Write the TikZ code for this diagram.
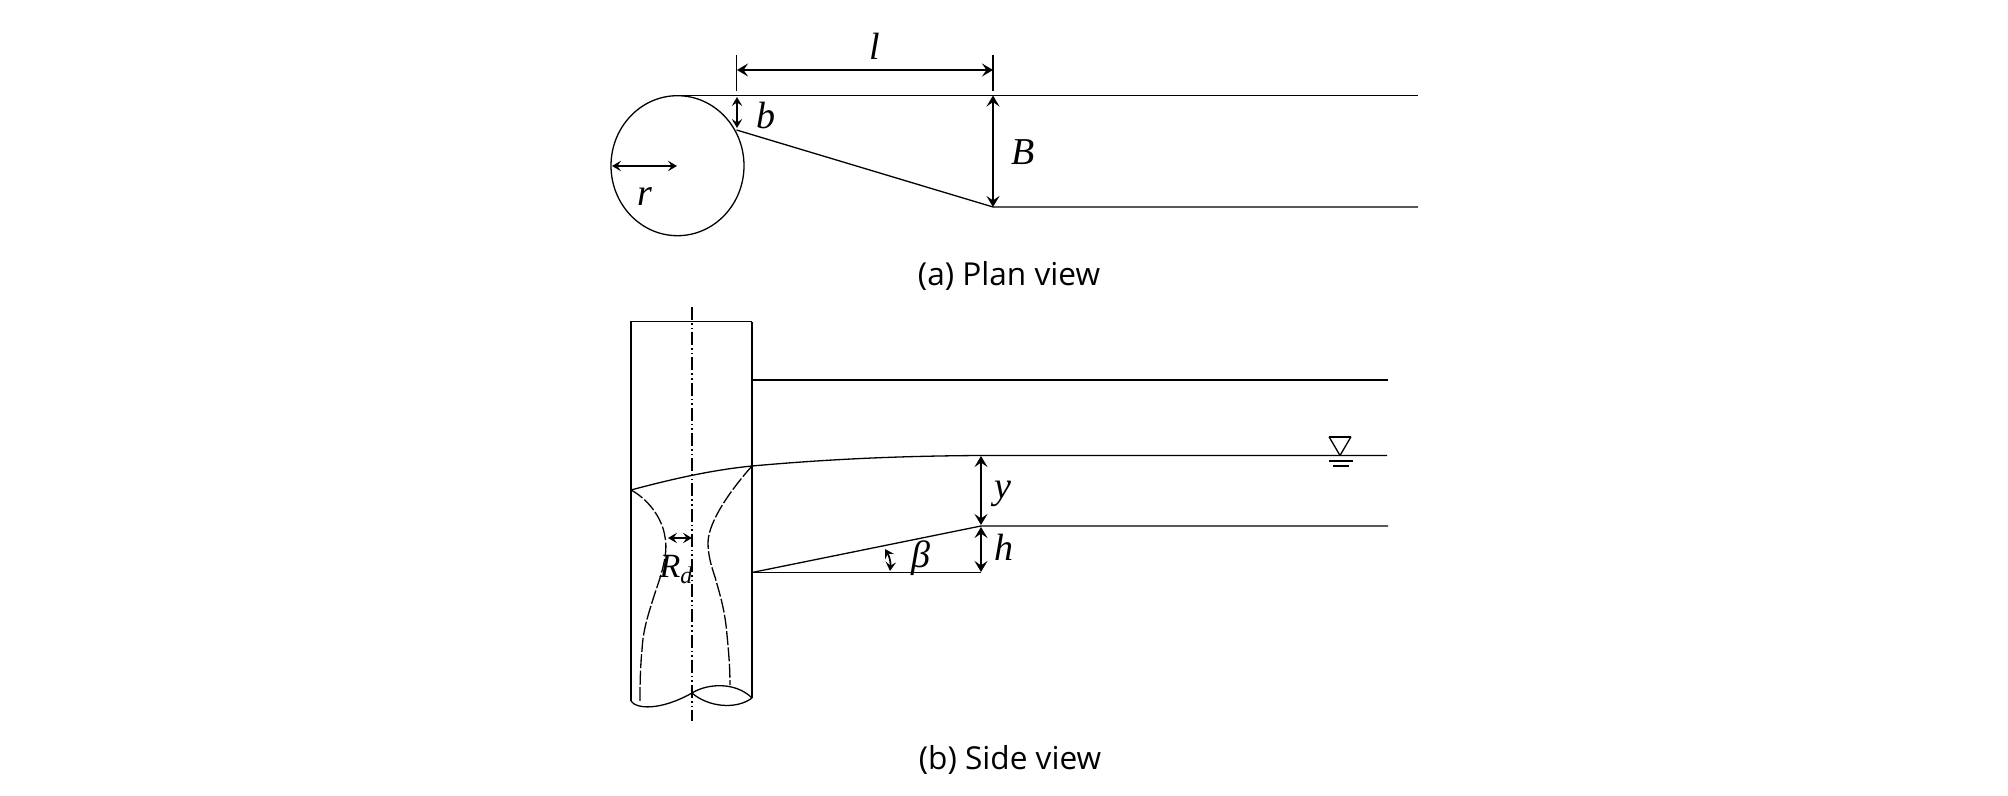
\documentclass[tikz,border=0pt]{standalone}
\usepackage{fontspec}
\setmainfont{Open Sans}
\newfontfamily\labfont{Liberation Serif}
\usetikzlibrary{arrows.meta}
\tikzset{
  thin line/.style={line width=0.65pt,black},
  hidden line/.style={line width=0.65pt,black,dash pattern=on 7pt off 1.2pt},
  axis line/.style={line width=0.85pt,black,dash pattern=on 6.5pt off 1.5pt on 0.8pt off 1.5pt on 0.8pt off 1.5pt},
  dimline/.style={line width=1.1pt,black,{Stealth[length=5.5pt,width=6.5pt,inset=2.2pt]}-{Stealth[length=5.5pt,width=6.5pt,inset=2.2pt]}},
  smalldim/.style={line width=0.85pt,black,{Stealth[length=4.5pt,width=5.2pt,inset=1.8pt]}-{Stealth[length=4.5pt,width=5.2pt,inset=1.8pt]}},
  lab/.style={inner sep=0pt,font=\labfont\itshape\fontsize{19}{19}\selectfont},
  captext/.style={inner sep=0pt,font=\fontsize{15.8}{18}\selectfont}
}
\begin{document}
\begin{tikzpicture}[x=0.5pt,y=-0.5pt]
\useasboundingbox (0,0) rectangle (2008,796);
% plan view coordinates
\coordinate (ptop) at (677,95.5);
\coordinate (ptopend) at (1418,95.5);
\coordinate (pneck) at (736.5,130);
\coordinate (pwide) at (993,207);
\coordinate (pwideend) at (1418,207);
\coordinate (pwidetop) at (993,95.5);
\coordinate (ltl) at (736.5,55);
\coordinate (lbl) at (736.5,91);
\coordinate (ltr) at (993,55);
\coordinate (lbr) at (993,91);
\coordinate (la) at (737,70);
\coordinate (lb) at (993,70);
\coordinate (ba) at (737,97);
\coordinate (bb) at (737,128);
\coordinate (ra) at (612,166);
\coordinate (rb) at (677,166);
\draw[thin line] (677.5,165.7) ellipse [x radius=66.5,y radius=70];
\draw[thin line] (ptop) -- (ptopend);
\draw[thin line] (pneck) -- (pwide) -- (pwideend);
\draw[thin line] (ltl) -- (lbl);
\draw[line width=0.95pt] (ltr) -- (lbr);
\draw[dimline] (la) -- (lb);
\draw[smalldim] (ba) -- (bb);
\draw[dimline] (pwidetop) -- (pwide);
\draw[smalldim] (ra) -- (rb);
\node[lab] (labl) at (875,46) {l};
\node[lab] (labb) at (766,116) {b};
\node[lab] (labB) at (1023,152) {B};
\node[lab] (labr) at (645,197) {r};
\node[captext] (capa) at (1009,276) {(a) Plan view};
% side view coordinates
\coordinate (stl) at (631,321.7);
\coordinate (str) at (752,321.7);
\coordinate (sbl) at (631,701);
\coordinate (sbr) at (752,698);
\coordinate (sm) at (692,693);
\coordinate (axt) at (692,307);
\coordinate (axb) at (692,721);
\coordinate (rooft) at (752,380);
\coordinate (roofe) at (1388,380);
\coordinate (wl) at (631,490);
\coordinate (wr) at (752,466);
\coordinate (wm) at (981,455.5);
\coordinate (we) at (1387,455.5);
\coordinate (bedm) at (981,526);
\coordinate (bede) at (1388,526);
\coordinate (bedl) at (752,572.5);
\coordinate (bedb) at (981,572.5);
\draw[thin line] (sbl) -- (stl) -- (str);
\draw[line width=1pt] (str) -- (sbr);
\draw[thin line] (sbl) .. controls (636,709) and (660,711) .. (sm);
\draw[thin line] (sm) .. controls (708,707) and (736,710) .. (sbr);
\draw[thin line] (sm) .. controls (708,683) and (736,682) .. (sbr);
\draw[axis line] (axt) -- (axb);
\draw[thin line] (rooft) -- (roofe);
\draw[thin line] (wl) .. controls (672,479) and (712,470) .. (wr) .. controls (830,459) and (900,456) .. (wm) -- (we);
\draw[thin line] (bedl) -- (bedm) -- (bede);
\draw[thin line] (bedl) -- (bedb);
\draw[hidden line] (wl) .. controls (646,498) and (662,516) .. (665,537) .. controls (668,552) and (663,570) .. (655,593) .. controls (648,615) and (643,630) .. (642,650) .. controls (640,670) and (640,690) .. (640,703);
\draw[hidden line] (wr) .. controls (735,485) and (708,520) .. (708,543) .. controls (708,556) and (712,568) .. (715,577) .. controls (720,595) and (725,610) .. (727,635) .. controls (729,655) and (730,670) .. (730,685);
% water-level symbol
\coordinate (tria) at (1329,436.7);
\coordinate (trib) at (1351,436.7);
\coordinate (tric) at (1340,455.5);
\coordinate (g1a) at (1329,461);
\coordinate (g1b) at (1353,461);
\coordinate (g2a) at (1333,466);
\coordinate (g2b) at (1349,466);
\draw[thin line] (tric) -- (tria);
\draw[thin line] (tric) -- (trib);
\draw[line width=1pt] (tria) -- (trib);
\draw[thin line] (g1a) -- (g1b);
\draw[thin line] (g2a) -- (g2b);
% dimensions
\coordinate (ya) at (981,456);
\coordinate (yb) at (981,525);
\coordinate (ha) at (981,527);
\coordinate (hb) at (981,572);
\coordinate (ra2) at (668,538);
\coordinate (rb2) at (692,538);
\coordinate (ba2) at (885,549);
\coordinate (bb2) at (890,571);
\draw[dimline] (ya) -- (yb);
\draw[dimline] (ha) -- (hb);
\draw[smalldim] (ra2) -- (rb2);
\draw[smalldim] (ba2) to[bend left=18] (bb2);
\node[lab] (laby) at (1003,494) {y};
\node[lab] (labh) at (1004,547) {h};
\node[lab] (labbeta) at (921,558) {β};
\node[lab,font=\labfont\itshape\fontsize{17}{17}\selectfont] (labrd) at (676,569) {R\raisebox{-3pt}{\fontsize{12}{12}\selectfont d}};
\node[captext] (capb) at (1010,760) {(b) Side view};
\end{tikzpicture}
\end{document}
